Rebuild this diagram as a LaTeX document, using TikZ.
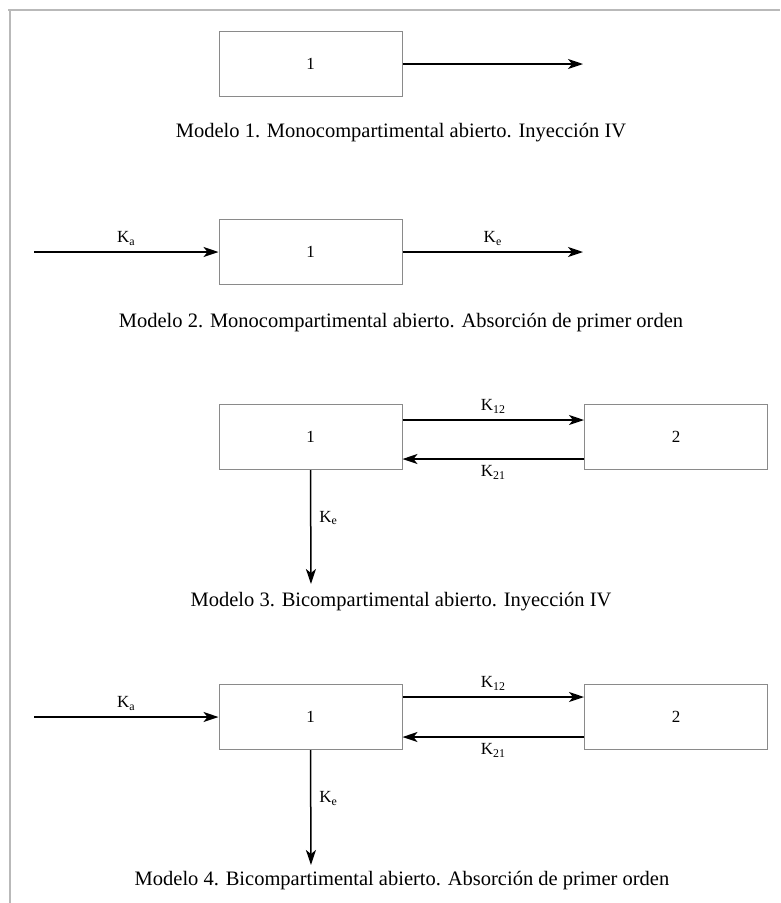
\documentclass[tikz,border=0pt]{standalone}
\usepackage{fontspec}
\setmainfont{Liberation Serif}
\usetikzlibrary{arrows.meta,positioning}
\definecolor{frame}{HTML}{B9B9B9}
\definecolor{boxline}{HTML}{8A8A8A}
\tikzset{comp/.style={draw=boxline,line width=1pt,minimum width=183pt,minimum height=65pt,inner sep=0pt,font=\fontsize{17}{17}\selectfont},rate/.style={-{Stealth[length=15pt,width=10pt,inset=4pt]},line width=1.5pt},klabel/.style={font=\fontsize{17}{17}\selectfont,inner sep=2pt},caption/.style={font=\fontsize{20.5}{20.5}\selectfont}}

\begin{document}
\begin{tikzpicture}[x=1pt,y=-1pt]
\useasboundingbox (0,0) rectangle (780,903);
\draw[frame,line width=1.2pt] (8,10)--(780,10) (10,10)--(10,903);
% Modelo 1
\node[comp] (m1a) at (310.5,64) {1};
\coordinate (m1out) at (583,64);
\draw[rate] (m1a.east)--(m1out);
\node[caption] (m1cap) at (401,133) {Modelo 1. Monocompartimental abierto. Inyección IV};
% Modelo 2
\node[comp] (m2a) at (310.5,252) {1};
\coordinate (m2in) at (34,252); \coordinate (m2out) at (583,252);
\draw[rate] (m2in)--(m2a.west) node[klabel,midway,above=4pt] (m2ka) {K\textsubscript{a}};
\draw[rate] (m2a.east)--(m2out) node[klabel,midway,above=4pt] (m2ke) {K\textsubscript{e}};
\node[caption] (m2cap) at (401,323) {Modelo 2. Monocompartimental abierto. Absorción de primer orden};
% Modelo 3
\node[comp] (m3a) at (310.5,437) {1};
\node[comp] (m3b) at (676,437) {2};
\coordinate (m3out) at (311,584);
\draw[rate] (m3a.east|-0,420)--(m3b.west|-0,420) node[klabel,midway,above=4pt] (m3k12) {K\textsubscript{12}};
\draw[rate] (m3b.west|-0,459)--(m3a.east|-0,459) node[klabel,midway,below=4pt] (m3k21) {K\textsubscript{21}};
\draw[rate] (m3a.south)--(m3out) node[klabel,pos=.42,right=6pt] (m3ke) {K\textsubscript{e}};
\node[caption] (m3cap) at (401,602) {Modelo 3. Bicompartimental abierto. Inyección IV};
% Modelo 4
\node[comp] (m4a) at (310.5,717) {1};
\node[comp] (m4b) at (676,717) {2};
\coordinate (m4in) at (34,717); \coordinate (m4out) at (311,865);
\draw[rate] (m4in)--(m4a.west) node[klabel,midway,above=4pt] (m4ka) {K\textsubscript{a}};
\draw[rate] (m4a.east|-0,697)--(m4b.west|-0,697) node[klabel,midway,above=4pt] (m4k12) {K\textsubscript{12}};
\draw[rate] (m4b.west|-0,737)--(m4a.east|-0,737) node[klabel,midway,below=4pt] (m4k21) {K\textsubscript{21}};
\draw[rate] (m4a.south)--(m4out) node[klabel,pos=.42,right=6pt] (m4ke) {K\textsubscript{e}};
\node[caption] (m4cap) at (402,881) {Modelo 4. Bicompartimental abierto. Absorción de primer orden};
\end{tikzpicture}
\end{document}
